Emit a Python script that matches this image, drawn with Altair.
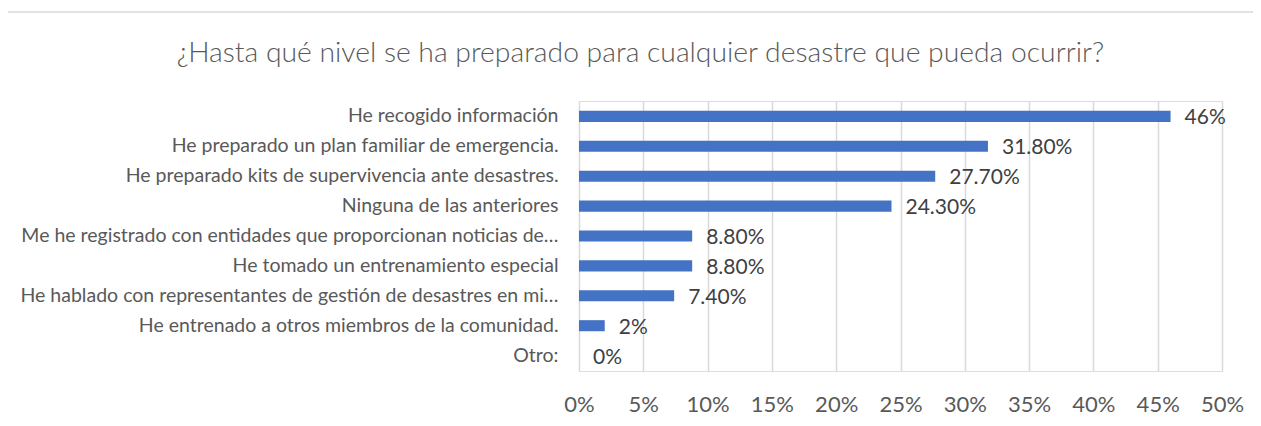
import altair as alt
import pandas as pd

categories = [
    "He recogido información",
    "He preparado un plan familiar de emergencia.",
    "He preparado kits de supervivencia ante desastres.",
    "Ninguna de las anteriores",
    "Me he registrado con entidades que proporcionan noticias de…",
    "He tomado un entrenamiento especial",
    "He hablado con representantes de gestión de desastres en mi…",
    "He entrenado a otros miembros de la comunidad.",
    "Otro:",
]
values = [46.0, 31.8, 27.7, 24.3, 8.8, 8.8, 7.4, 2.0, 0.0]
value_labels = ["46%", "31.80%", "27.70%", "24.30%", "8.80%", "8.80%", "7.40%", "2%", "0%"]
title_text = "¿Hasta qué nivel se ha preparado para cualquier desastre que pueda ocurrir?"

df = pd.DataFrame({"cat": categories, "val": values, "lab": value_labels})

FONT = "Lato"
W, H = 643, 270

y_enc = alt.Y(
    "cat:N",
    sort=categories,
    title=None,
    scale=alt.Scale(paddingInner=0.63, paddingOuter=0.33),
    axis=alt.Axis(
        domain=False, ticks=False, labelPadding=21, labelLimit=700,
        labelFont=FONT, labelFontSize=19.5, labelColor="#595959", grid=False,
    ),
)
x_enc = alt.X(
    "val:Q",
    title=None,
    scale=alt.Scale(domain=[0, 50], nice=False),
    axis=alt.Axis(
        values=list(range(0, 51, 5)), labelExpr="datum.value + '%'",
        domain=False, ticks=False, labelPadding=23, labelFlush=False,
        labelFont=FONT, labelFontSize=22, labelColor="#595959",
        grid=True, gridColor="#d9d9d9", gridWidth=1.5,
    ),
)

frame = alt.Chart(pd.DataFrame({"a": [0]})).mark_rect(
    fill=None, stroke="#d9d9d9", strokeWidth=1.5
).encode(
    x=alt.value(-572), x2=alt.value(W + 80),
    y=alt.value(-89), y2=alt.value(H + 80),
)

bars = alt.Chart(df).mark_bar(color="#4472c4").encode(y=y_enc, x=x_enc)
texts = alt.Chart(df).mark_text(
    align="left", baseline="middle", dx=14, dy=2,
    font=FONT, fontSize=21, color="#404040",
).encode(y=alt.Y("cat:N", sort=categories), x="val:Q", text="lab:N")

chart = alt.layer(frame, bars, texts).properties(
    width=W, height=H,
    autosize=alt.AutoSizeParams(type="none"),
    padding={"left": 571, "top": 93, "right": 31, "bottom": 47},
    title=alt.TitleParams(
        title_text, anchor="middle", frame="group", dx=-260, offset=-57,
        font=FONT, fontSize=28.3, fontWeight=300, color="#595959",
    ),
).configure_view(stroke=None).configure(background="white")

chart.save("out.html", embed_options={"renderer": "svg", "actions": False})
